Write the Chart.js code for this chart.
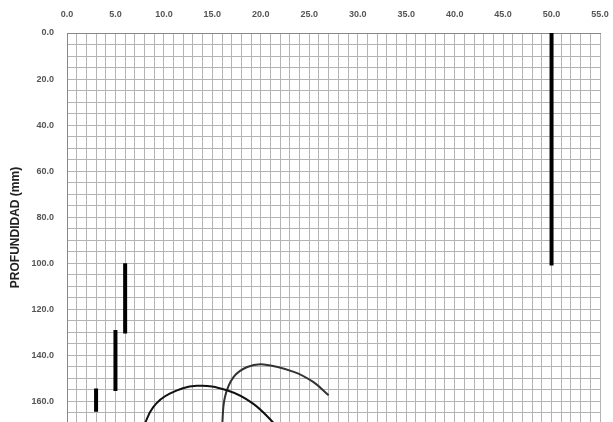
<!DOCTYPE html>
<html lang="en">
<head>
    <meta charset="UTF-8">
    <title>Profundidad</title>
    <script src="https://cdn.jsdelivr.net/npm/chart.js"></script>
    <style>
        html, body { margin: 0; padding: 0; background: #fff; }
        #wrap { width: 613px; height: 422px; }
    </style>
</head>
<body>
    <div id="wrap"><canvas id="chart" width="613" height="422"></canvas></div>

    <script>
        // axis ranges
        const xMin = 0, xMax = 55;
        const yMin = 0, yMax = 169;

        // thick vertical segments [x, y]
        const seg50 = [[50, 0], [50, 101]];
        const seg6 = [[6, 100], [6, 130.5]];
        const seg5 = [[5, 129], [5, 155.5]];
        const seg3 = [[3, 154.5], [3, 164.6]];

        // curves [x, y]
        const curveA = [[7.9, 171], [8.9, 162.5], [10.6, 156.7], [13.4, 153.3], [16.5, 155.2], [19.2, 161], [21.7, 171]];
        const curveB = [[16.0, 171], [16.3, 158.1], [17.2, 149.4], [18.6, 145.1], [20.3, 144], [23.4, 147.2], [25.4, 151.6], [27.0, 157.4]];

        const toPts = arr => arr.map(p => ({ x: p[0], y: p[1] }));

        const seg = (pts, w) => ({
            data: toPts(pts),
            showLine: true,
            borderColor: '#000',
            borderWidth: w,
            pointRadius: 0,
            borderCapStyle: 'butt'
        });
        const curve = (pts, w, c) => ({
            data: toPts(pts),
            showLine: true,
            borderColor: c,
            borderWidth: w,
            pointRadius: 0,
            tension: 0.4
        });

        const ctx = document.getElementById('chart').getContext('2d');

        new Chart(ctx, {
            type: 'scatter',
            data: {
                datasets: [
                    seg(seg50, 4),
                    seg(seg6, 4),
                    seg(seg5, 4),
                    seg(seg3, 4),
                    curve(curveA, 2, '#111'),
                    curve(curveB, 2, '#333')
                ]
            },
            options: {
                responsive: false,
                animation: false,
                layout: { padding: { left: 0, right: 13, top: 0, bottom: 0 } },
                plugins: {
                    legend: { display: false },
                    tooltip: { enabled: false }
                },
                scales: {
                    x: {
                        type: 'linear',
                        position: 'top',
                        min: xMin,
                        max: xMax,
                        afterFit(scale) {
                            scale.height = 33;
                            scale.paddingRight = 0;
                            scale.paddingLeft = 0;
                        },
                        border: { color: '#888' },
                        grid: { color: '#b4b4b4', drawTicks: false, lineWidth: 1 },
                        ticks: {
                            stepSize: 1,
                            autoSkip: false,
                            maxRotation: 0,
                            padding: 13,
                            color: '#555',
                            font: { family: 'Liberation Sans', size: 9, weight: 'bold' },
                            callback: v => (v % 5 === 0 ? v.toFixed(1) : '')
                        }
                    },
                    y: {
                        type: 'linear',
                        reverse: true,
                        min: yMin,
                        max: yMax,
                        afterFit(scale) {
                            scale.width = 67;
                            scale.paddingTop = 0;
                            scale.paddingBottom = 0;
                        },
                        border: { color: '#888' },
                        grid: { color: '#b4b4b4', drawTicks: false, lineWidth: 1 },
                        ticks: {
                            stepSize: 5,
                            includeBounds: false,
                            autoSkip: false,
                            padding: 13,
                            color: '#555',
                            font: { family: 'Liberation Sans', size: 9, weight: 'bold' },
                            callback: v => (v % 20 === 0 ? v.toFixed(1) : '')
                        },
                        title: {
                            display: true,
                            text: 'PROFUNDIDAD (mm)',
                            color: '#222',
                            padding: { top: 8, bottom: 0 },
                            font: { family: 'Liberation Sans', size: 12, weight: 'bold' }
                        }
                    }
                }
            }
        });
    </script>
</body>
</html>
